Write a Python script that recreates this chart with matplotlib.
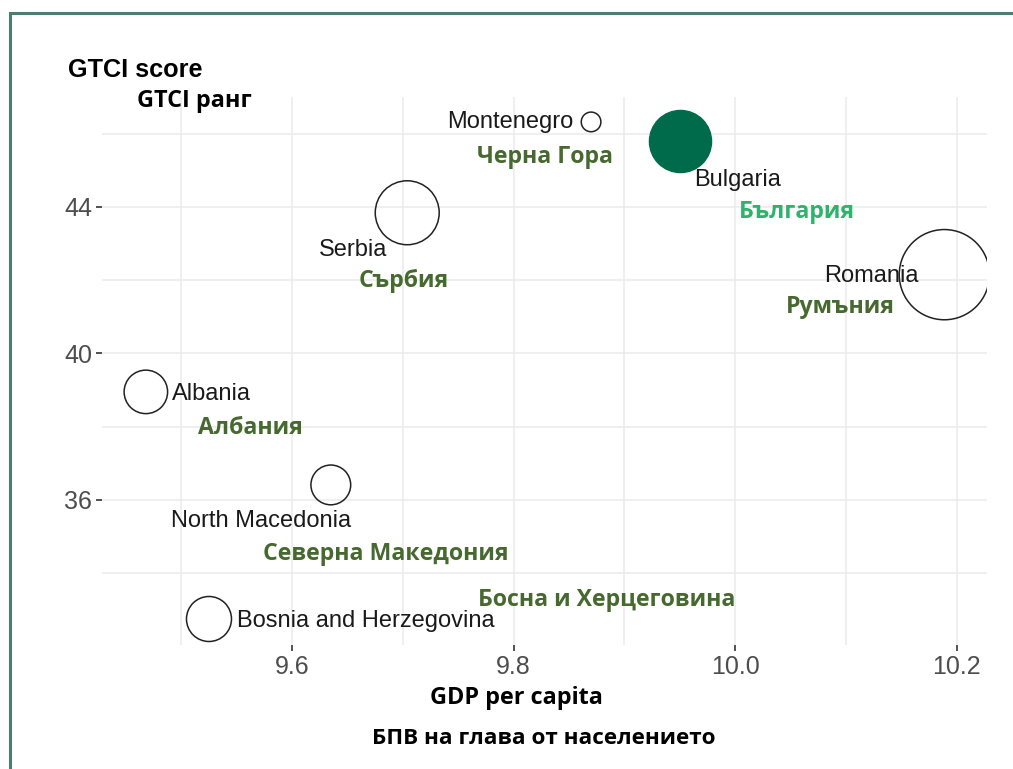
import matplotlib.pyplot as plt
from matplotlib.patches import Rectangle

# GDP per capita (log) vs GTCI score, bubble = relative size
countries = ["Montenegro", "Bulgaria", "Serbia", "Romania",
             "Albania", "North Macedonia", "Bosnia and Herzegovina"]
labels_bg = ["Черна Гора", "България", "Сърбия", "Румъния",
             "Албания", "Северна Македония", "Босна и Херцеговина"]
gdp = [9.870, 9.950, 9.704, 10.189, 9.468, 9.635, 9.525]
gtci = [46.32, 45.80, 43.84, 42.15, 38.95, 36.41, 32.75]
bubble = [1.0, 10.0, 10.6, 21.1, 4.9, 4.1, 5.25]

# label offsets in pixels (english, bulgarian)
en_off = [(-18, 0, "right"), (14, -39, "left"), (-54, -37, "center"),
          (-73, -1, "center"), (26, -2, "left"), (-70, -36, "center"),
          (28, -2, "left")]
bg_off = [(-46, -35), (117, -71), (-4, -68), (-104, -32), (105, -36),
          (55, -69), (398, 19)]

W, H = 1013, 769
fig = plt.figure(figsize=(W / 100, H / 100), dpi=100)
fig.patch.set_facecolor("white")
ax = fig.add_axes([102 / W, 1 - 645 / H, (987 - 102) / W, (645 - 97) / H])
ax.set_facecolor("white")

ax.set_xlim(9.4284, 10.2275)
ax.set_ylim(32.04, 47.0)
ax.set_xticks([9.6, 9.8, 10.0, 10.2])
ax.set_xticklabels(["9.6", "9.8", "10.0", "10.2"])
ax.set_yticks([36, 40, 44])
ax.set_xticks([9.5, 9.7, 9.9, 10.1], minor=True)
ax.set_yticks([34, 38, 42, 46], minor=True)
ax.grid(True, which="both", color="#ebebeb", lw=1.1)
ax.set_axisbelow(True)
for s in ax.spines.values():
    s.set_visible(False)
ax.tick_params(which="major", length=4, width=1.2, color="#333333",
               labelcolor="#4d4d4d", labelsize=18, pad=3)
ax.tick_params(which="minor", length=0)
for t in ax.get_xticklabels() + ax.get_yticklabels():
    t.set_fontfamily("Liberation Sans")

for i, c in enumerate(countries):
    if c == "Bulgaria":
        ax.scatter(gdp[i], gtci[i], s=bubble[i] * 200, color="#006b4a",
                   edgecolors="#006b4a", zorder=3)
    else:
        ax.scatter(gdp[i], gtci[i], s=bubble[i] * 200, facecolors="none",
                   edgecolors="#222222", linewidths=1.1, zorder=3)

for i, c in enumerate(countries):
    dx, dy, ha = en_off[i]
    ax.annotate(c, (gdp[i], gtci[i]), xytext=(dx, dy),
                textcoords="offset pixels", ha=ha, va="center",
                fontsize=17, family="Liberation Sans", color="#1a1a1a",
                zorder=4, annotation_clip=False)
    bx, by = bg_off[i]
    col = "#2fb26c" if c == "Bulgaria" else "#46692f"
    ax.annotate(labels_bg[i], (gdp[i], gtci[i]), xytext=(bx, by),
                textcoords="offset pixels", ha="center", va="center",
                fontsize=16.7, family="Open Sans", fontweight="bold",
                color=col, zorder=4, annotation_clip=False)

fig.text(68 / W, 1 - 70 / H, "GTCI score", ha="left", va="center",
         fontsize=18.2, fontweight="bold", family="Liberation Sans")
fig.text(137 / W, 1 - 101 / H, "GTCI ранг", ha="left", va="center",
         fontsize=16.8, fontweight="bold", family="Open Sans")
fig.text(516 / W, 1 - 698 / H, "GDP per capita", ha="center", va="center",
         fontsize=16.8, fontweight="bold", family="Open Sans")
fig.text(544 / W, 1 - 739 / H, "БПВ на глава от населението", ha="center",
         va="center", fontsize=16.2, fontweight="bold", family="Open Sans")

frame = Rectangle((10 / W, -0.5), 2, 1.5 - 13 / H,
                  transform=fig.transFigure, fill=False,
                  edgecolor="#4c7d6e", lw=2.2)
fig.patches.append(frame)

fig.savefig("out.png", dpi=100)
